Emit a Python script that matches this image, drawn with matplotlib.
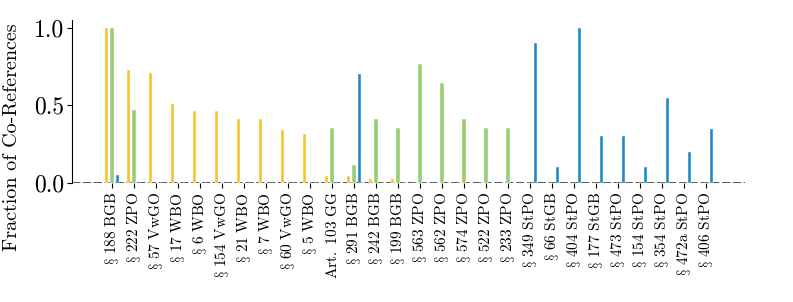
import numpy as np
import matplotlib
matplotlib.use("Agg")
import matplotlib.pyplot as plt

plt.rcParams['mathtext.fontset'] = 'cm'
plt.rcParams['font.family'] = ['cmr10', 'DejaVu Serif']
plt.rcParams['axes.formatter.use_mathtext'] = True

labels = ["§ 188 BGB", "§ 222 ZPO", "§ 57 VwGO", "§ 17 WBO", "§ 6 WBO", "§ 154 VwGO",
          "§ 21 WBO", "§ 7 WBO", "§ 60 VwGO", "§ 5 WBO", "Art. 103 GG", "§ 291 BGB",
          "§ 242 BGB", "§ 199 BGB", "§ 563 ZPO", "§ 562 ZPO", "§ 574 ZPO", "§ 522 ZPO",
          "§ 233 ZPO", "§ 349 StPO", "§ 66 StGB", "§ 404 StPO", "§ 177 StGB", "§ 473 StPO",
          "§ 154 StPO", "§ 354 StPO", "§ 472a StPO", "§ 406 StPO"]

orange_vals = [1.0, 0.73, 0.71, 0.51, 0.465, 0.465, 0.415, 0.415, 0.342, 0.316, 0.047, 0.047,
               0.024, 0.024, 0, 0, 0, 0, 0, 0, 0, 0, 0, 0, 0, 0, 0, 0]
green_vals = [1.0, 0.47, 0, 0, 0, 0, 0, 0, 0, 0, 0.353, 0.118, 0.41, 0.353, 0.765, 0.647,
              0.41, 0.353, 0.353, 0, 0, 0, 0, 0, 0, 0, 0, 0]
blue_vals = [0.05, 0, 0, 0, 0, 0, 0, 0, 0, 0, 0, 0.70, 0, 0, 0, 0, 0, 0, 0, 0.90, 0.10, 1.0,
             0.30, 0.30, 0.10, 0.55, 0.20, 0.35]

c_orange = '#FBBF2A'
c_green = '#9ACD72'
c_blue = '#1E88C3'

fig = plt.figure(figsize=(7.93, 3.02), dpi=100)
ax = fig.add_axes([72/793, 1-183/302, (745-72)/793, (183-20)/302])

x = np.arange(len(labels))
w = 0.15
off = 0.25
ax.bar(x - off, orange_vals, width=w, color=c_orange, edgecolor='white', linewidth=0.3)
ax.bar(x, green_vals, width=w, color=c_green, edgecolor='white', linewidth=0.3)
ax.bar(x + off, blue_vals, width=w, color=c_blue, edgecolor='white', linewidth=0.3)

ax.axhline(0, color='#3a3a3a', linestyle=(0, (5, 1.5)), linewidth=1.2, zorder=0.5)

ax.set_xlim(-1.82, 28.77)
ax.set_ylim(0, 1.05)
ax.set_yticks([0.0, 0.5, 1.0])
ax.set_yticklabels(['0.0', '0.5', '1.0'], fontsize=17)

def to_math(s):
    return r'$\mathrm{' + s.replace('§', r'\S').replace(' ', r'\ ') + '}$'

ax.set_xticks(x)
ax.set_xticklabels([to_math(s) for s in labels], rotation=90, fontsize=11)
ax.tick_params(axis='x', length=3.5, width=0.8, pad=3)
ax.tick_params(axis='y', length=3.5, width=0.8, pad=2)

for sp in ['top', 'right', 'bottom']:
    ax.spines[sp].set_visible(False)
ax.spines['left'].set_linewidth(0.8)

ax.set_ylabel('Fraction of Co-References', fontsize=14.5)
ax.yaxis.set_label_coords(-0.076, 0.28)

fig.savefig('out.png', dpi=100)
